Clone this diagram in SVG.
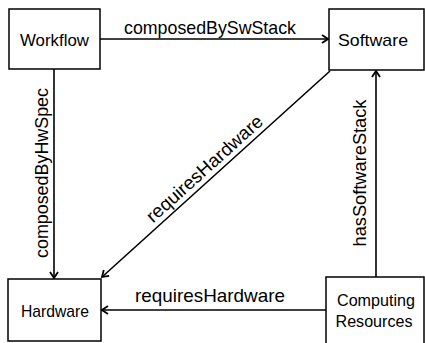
<svg xmlns="http://www.w3.org/2000/svg" width="425" height="343" viewBox="0 0 425 343">
<defs>
<marker id="arr" markerWidth="10" markerHeight="10" viewBox="0 0 10 10" refX="9" refY="5" orient="auto" markerUnits="userSpaceOnUse">
<path d="M3,1 L9,5 L3,9" fill="none" stroke="#000" stroke-width="1.8"/>
</marker>
<style>
.box{fill:#fff;stroke:#000;stroke-width:1.5}
.lbl{font-family:"Liberation Sans",Arial,sans-serif;font-size:17px;fill:#000;text-anchor:middle}
.edge{font-family:"Liberation Sans",Arial,sans-serif;font-size:18.5px;fill:#000;text-anchor:middle}
.con{stroke:#000;stroke-width:1.6;fill:none;marker-end:url(#arr)}
</style>
</defs>
<rect width="425" height="343" fill="#fff"/>
<g id="connectors">
<line class="con" x1="100" y1="39" x2="328" y2="39"/>
<line class="con" x1="54" y1="69" x2="54" y2="278"/>
<line class="con" x1="330" y1="71" x2="102" y2="277"/>
<line class="con" x1="376" y1="277" x2="376" y2="71"/>
<line class="con" x1="326" y1="310" x2="102" y2="310"/>
<text class="edge" x="210" y="34" textLength="172" lengthAdjust="spacingAndGlyphs">composedBySwStack</text>
<text class="edge" transform="translate(48,173) rotate(-90)" textLength="170" lengthAdjust="spacingAndGlyphs">composedByHwSpec</text>
<text class="edge" transform="translate(212,177) rotate(-42) translate(0,-5)" textLength="150" lengthAdjust="spacingAndGlyphs">requiresHardware</text>
<text class="edge" transform="translate(366,173) rotate(-90)" textLength="147" lengthAdjust="spacingAndGlyphs">hasSoftwareStack</text>
<text class="edge" x="210" y="302" textLength="150" lengthAdjust="spacingAndGlyphs">requiresHardware</text>
</g>
<g id="workflow">
<rect class="box" x="9" y="9" width="91" height="60"/>
<text class="lbl" x="54.5" y="46" textLength="69" lengthAdjust="spacingAndGlyphs">Workflow</text>
</g>
<g id="software">
<rect class="box" x="329" y="9" width="95" height="61"/>
<text class="lbl" x="373" y="46" textLength="70" lengthAdjust="spacingAndGlyphs">Software</text>
</g>
<g id="hardware">
<rect class="box" x="8" y="279" width="93" height="62"/>
<text class="lbl" x="55" y="317" textLength="68" lengthAdjust="spacingAndGlyphs">Hardware</text>
</g>
<g id="computing">
<rect class="box" x="326" y="277" width="98" height="70"/>
<text class="lbl" x="376" y="306" textLength="78" lengthAdjust="spacingAndGlyphs">Computing</text>
<text class="lbl" x="374" y="327" textLength="77" lengthAdjust="spacingAndGlyphs">Resources</text>
</g>
</svg>
